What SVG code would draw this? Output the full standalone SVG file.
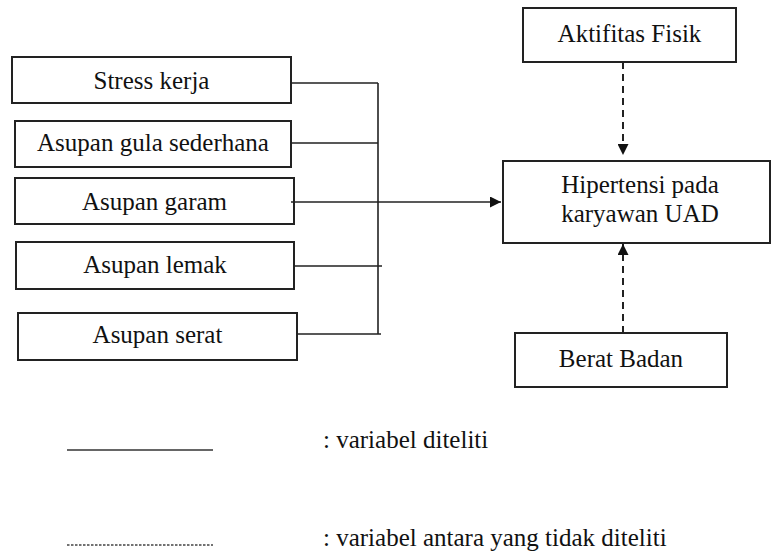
<svg xmlns="http://www.w3.org/2000/svg" width="771" height="551" viewBox="0 0 771 551">
<style>
.box{fill:#fff;stroke:#222;stroke-width:2}
.t{font-family:"Liberation Serif","Times New Roman",serif;font-size:25px;fill:#111;text-anchor:middle}
.lt{font-family:"Liberation Serif","Times New Roman",serif;font-size:25px;fill:#111}
.c{fill:none;stroke:#222;stroke-width:1.6}
.d{fill:none;stroke:#222;stroke-width:2;stroke-dasharray:7,5}
</style>
<defs>
<marker id="ah" viewBox="0 0 10 10" refX="10" refY="5" markerWidth="11" markerHeight="11" markerUnits="userSpaceOnUse" orient="auto">
<path d="M0,0 L10,5 L0,10 Z" fill="#111"/>
</marker>
</defs>
<rect width="771" height="551" fill="#fff"/>
<g id="stress"><rect class="box" x="12" y="57" width="279" height="46"/><text class="t" x="151.5" y="89">Stress kerja</text></g>
<g id="gula"><rect class="box" x="15" y="121" width="276" height="46"/><text class="t" x="153" y="151">Asupan gula sederhana</text></g>
<g id="garam"><rect class="box" x="15" y="178" width="279" height="46"/><text class="t" x="154.5" y="210">Asupan garam</text></g>
<g id="lemak"><rect class="box" x="16" y="242" width="278" height="47"/><text class="t" x="155" y="273">Asupan lemak</text></g>
<g id="serat"><rect class="box" x="18" y="313" width="279" height="47"/><text class="t" x="157.5" y="343">Asupan serat</text></g>
<g id="aktifitas"><rect class="box" x="523" y="8" width="213" height="54"/><text class="t" x="629.5" y="42">Aktifitas Fisik</text></g>
<g id="hipertensi"><rect class="box" x="503" y="161" width="267" height="82"/><text class="t" x="640" y="193">Hipertensi pada</text><text class="t" x="640" y="222">karyawan UAD</text></g>
<g id="berat"><rect class="box" x="515" y="333" width="212" height="54"/><text class="t" x="621" y="367">Berat Badan</text></g>
<g id="connectors">
<path class="c" d="M291,83 H378 M291,143 H378 M294,266 H382 M297,334 H381 M378,83 V334"/>
<path class="c" d="M291,202 H501" marker-end="url(#ah)"/>
<path class="d" d="M623,62 V155" marker-end="url(#ah)"/>
<path class="d" d="M623,333 V244" marker-end="url(#ah)"/>
</g>
<g id="legend">
<line x1="67" y1="450" x2="213" y2="450" stroke="#333" stroke-width="1.6"/>
<text class="lt" x="323" y="448">: variabel diteliti</text>
<line x1="67" y1="545" x2="213" y2="545" stroke="#444" stroke-width="1.5" stroke-dasharray="2.5,1.5"/>
<text class="lt" x="323" y="546">: variabel antara yang tidak diteliti</text>
</g>
</svg>
